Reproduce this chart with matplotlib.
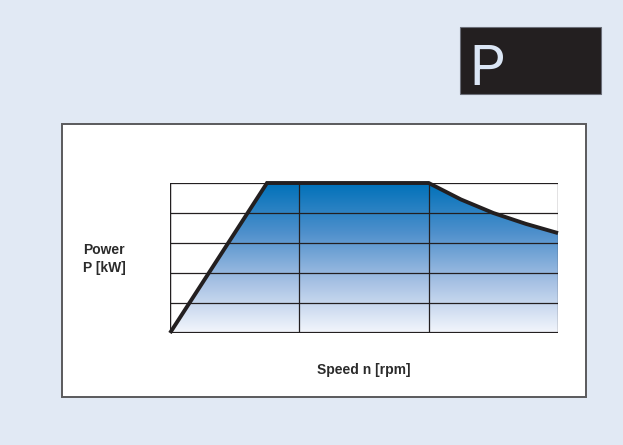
import matplotlib.pyplot as plt
import numpy as np
from matplotlib.colors import LinearSegmentedColormap
from matplotlib.patches import Rectangle

# curve (x in grid columns, y in grid rows)
speed = [0.0, 0.75, 2.0, 2.25, 2.5, 2.75, 3.0]
power = [0.0, 5.0, 5.0, 4.45, 4.0, 3.64, 3.33]
x_lines = [0, 1, 2, 3]
y_lines = [0, 1, 2, 3, 4, 5]

ylabel = "Power\nP [kW]"
xlabel = "Speed n [rpm]"
display_text = "P"

W, H = 623, 445
fig = plt.figure(figsize=(W / 100, H / 100), dpi=100)
fig.patch.set_facecolor("#e1e9f4")

# background drawing in pixel coordinates
bg = fig.add_axes([0, 0, 1, 1])
bg.set_xlim(0, W)
bg.set_ylim(H, 0)
bg.axis("off")
bg.add_patch(Rectangle((62, 124), 524, 273, facecolor="white",
                       edgecolor="#5a5a5c", linewidth=1.4))
bg.add_patch(Rectangle((460, 27), 141, 67, facecolor="#231f20",
                       edgecolor="#6b6e78", linewidth=0.8))
bg.text(487, 85, display_text, fontsize=40, color="#dbe6f5",
        family=["Roboto", "DejaVu Sans"], fontweight="normal",
        ha="center", va="baseline")
bg.text(104, 259, ylabel, fontsize=10, fontweight="bold", color="#2b2b2b",
        family=["Liberation Sans", "DejaVu Sans"], ha="center", va="center",
        linespacing=1.45)
bg.text(364, 370, xlabel, fontsize=10, fontweight="bold", color="#2b2b2b",
        family=["Liberation Sans", "DejaVu Sans"], ha="center", va="center")

# chart area
ax = fig.add_axes([170 / W, (H - 333) / H, 388 / W, 150 / H])
ax.set_xlim(0, 3)
ax.set_ylim(0, 5)
ax.axis("off")

cmap = LinearSegmentedColormap.from_list(
    "blues", ["#f3f6fc", "#a8c2e4", "#4f90cc", "#0071b9"])
grad = np.linspace(0, 1, 256).reshape(-1, 1)
img = ax.imshow(grad, cmap=cmap, origin="lower", aspect="auto",
                extent=[0, 3, 0, 5], zorder=1)
fill = ax.fill_between(speed, power, 0, color="none")
clip = fill.get_paths()[0]
img.set_clip_path(clip, transform=ax.transData)

for x in x_lines:
    ax.axvline(x, color="#231f20", lw=0.9, zorder=2)
for y in y_lines:
    ax.axhline(y, color="#231f20", lw=0.9, zorder=2)
ax.axvline(0, color="#231f20", lw=1.6, zorder=2)
ax.axhline(0, color="#231f20", lw=1.6, zorder=2)

ax.plot(speed, power, color="#231f20", lw=2.8, solid_capstyle="butt",
        solid_joinstyle="miter", zorder=3, clip_on=False)

fig.savefig("out.png", dpi=100, facecolor=fig.get_facecolor())
